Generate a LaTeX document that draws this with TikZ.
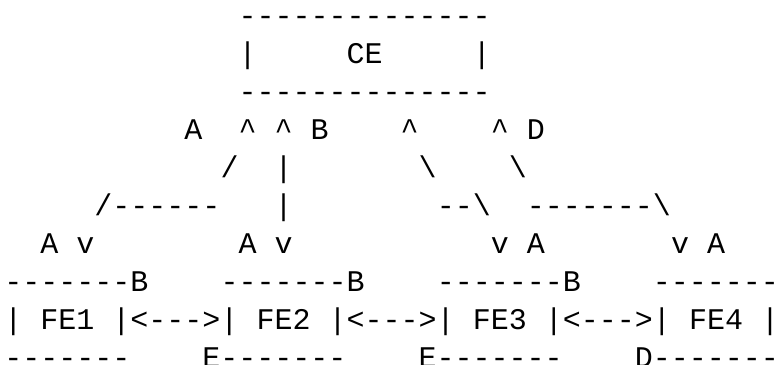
\documentclass[tikz,border=0pt]{standalone}
\usepackage{fontspec}
\newfontfamily\asciifont{Liberation Mono}[Ligatures=TeXOff]

\begin{document}
\begin{tikzpicture}[x=13.515pt, y=-28.5pt, ch/.style={font=\asciifont\fontsize{22.5pt}{27pt}\selectfont, inner sep=0pt, anchor=base west}]
  \useasboundingbox (-3pt,18.75pt) rectangle (577.5pt,-254.25pt);
  \node[ch] (ceTop) at (13,0) {--------------};
  \node[ch] (ceL) at (13,1) {|}; \node[ch] (ce) at (19,1) {CE}; \node[ch] (ceR) at (26,1) {|};
  \node[ch] (ceBot) at (13,2) {--------------};
  \node[ch] (upA) at (10,3) {A}; \node[ch] (upA1) at (13,3) {\textasciicircum}; \node[ch] (upB1) at (15,3) {\textasciicircum}; \node[ch] (upB) at (17,3) {B};
  \node[ch] (upC1) at (22,3) {\textasciicircum}; \node[ch] (upD1) at (27,3) {\textasciicircum}; \node[ch] (upD) at (29,3) {D};
  \node[ch] (slA) at (12,4) {/}; \node[ch] (slB) at (15,4) {|}; \node[ch] (slC) at (23,4) {\textbackslash}; \node[ch] (slD) at (28,4) {\textbackslash};
  \node[ch] (hzA) at (5,5) {/------}; \node[ch] (hzB) at (15,5) {|}; \node[ch] (hzC) at (24,5) {--\textbackslash}; \node[ch] (hzD) at (29,5) {-------\textbackslash};
  \node[ch] (dnA) at (2,6) {A}; \node[ch] (dnA1) at (4,6) {v}; \node[ch] (dnB) at (13,6) {A}; \node[ch] (dnB1) at (15,6) {v};
  \node[ch] (dnC1) at (27,6) {v}; \node[ch] (dnC) at (29,6) {A}; \node[ch] (dnD1) at (37,6) {v}; \node[ch] (dnD) at (39,6) {A};
  \node[ch] (feTop1) at (0,7) {-------B}; \node[ch] (feTop2) at (12,7) {-------B}; \node[ch] (feTop3) at (24,7) {-------B}; \node[ch] (feTop4) at (36,7) {-------};
  \node[ch] (feL1) at (0,8) {|}; \node[ch] (fe1) at (2,8) {FE1}; \node[ch] (lk12) at (6,8) {|<--->|}; \node[ch] (fe2) at (14,8) {FE2};
  \node[ch] (lk23) at (18,8) {|<--->|}; \node[ch] (fe3) at (26,8) {FE3}; \node[ch] (lk34) at (30,8) {|<--->|}; \node[ch] (fe4) at (38,8) {FE4}; \node[ch] (feR4) at (42,8) {|};
  \node[ch] (feBot1) at (0,9) {-------}; \node[ch] (feBot2) at (11,9) {E-------}; \node[ch] (feBot3) at (23,9) {E-------}; \node[ch] (feBot4) at (35,9) {D-------};
\end{tikzpicture}
\end{document}
